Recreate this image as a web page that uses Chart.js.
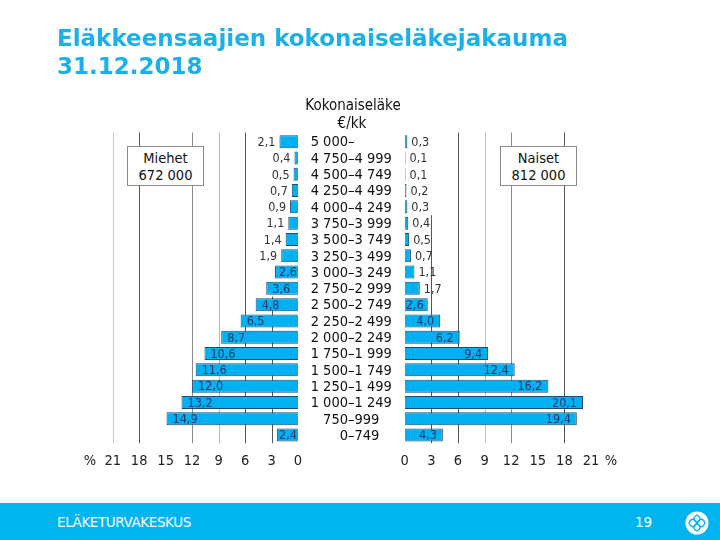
<!DOCTYPE html>
<html><head><meta charset="utf-8">
<script src="https://cdn.jsdelivr.net/npm/chart.js@4.4.0/dist/chart.umd.min.js"></script>
<style>
html,body{margin:0;padding:0;background:#fff;}
#wrap{position:relative;width:720px;height:540px;overflow:hidden;font-family:'DejaVu Sans Condensed','DejaVu Sans',sans-serif;}
canvas{position:absolute;left:0;top:0;}
.title{position:absolute;left:57px;top:24px;font-family:'DejaVu Sans';font-weight:bold;font-size:23px;color:#1cb0ea;line-height:28px;white-space:nowrap;}
.box{position:absolute;top:146px;height:40px;width:77px;background:#fff;border:1px solid #8a8a8a;text-align:center;font-size:14.5px;line-height:17px;color:#111;box-sizing:border-box;padding-top:3px;}
.footer{position:absolute;left:0;top:503px;width:720px;height:37px;background:#00b4ef;color:#fff;}
.ftxt{position:absolute;left:57px;top:11px;font-family:'DejaVu Sans';font-weight:normal;font-size:13.5px;letter-spacing:-0.4px;color:#fff;}
.fnum{position:absolute;left:635px;top:11px;font-family:'DejaVu Sans';font-weight:normal;font-size:13.5px;color:#fff;}
.logo{position:absolute;left:685px;top:8px;}
</style></head>
<body><div id="wrap">
<canvas id="men" width="720" height="540"></canvas>
<canvas id="women" width="720" height="540"></canvas>
<div class="title">Eläkkeensaajien kokonaiseläkejakauma<br>31.12.2018</div>
<div class="box" style="left:127px">Miehet<br>672 000</div>
<div class="box" style="left:500px">Naiset<br>812 000</div>
<div class="footer">
  <div class="ftxt">ELÄKETURVAKESKUS</div>
  <div class="fnum">19</div>
  <svg class="logo" width="24" height="24" viewBox="0 0 24 24">
    <circle cx="12" cy="12" r="11.5" fill="#fff"/>
    <path d="M4 12 C6 7,9 7,12 12 C15 17,18 17,20 12 C18 7,15 7,12 12 C9 17,6 17,4 12 Z" fill="none" stroke="#00b4ef" stroke-width="1.3"/>
    <path d="M12 4 C8 6,8 9,12 12 C16 15,16 18,12 20 C8 18,8 15,12 12 C16 9,16 6,12 4 Z" fill="none" stroke="#00b4ef" stroke-width="1.3"/>
  </svg>
</div>
</div>
<script>
const categories = ["5 000–","4 750–4 999","4 500–4 749","4 250–4 499","4 000–4 249","3 750–3 999","3 500–3 749","3 250–3 499","3 000–3 249","2 750–2 999","2 500–2 749","2 250–2 499","2 000–2 249","1 750–1 999","1 500–1 749","1 250–1 499","1 000–1 249","750–999","0–749"];
const menValues = [2.1,0.4,0.5,0.7,0.9,1.1,1.4,1.9,2.6,3.6,4.8,6.5,8.7,10.6,11.6,12.0,13.2,14.9,2.4];
const womenValues = [0.3,0.1,0.1,0.2,0.3,0.4,0.5,0.7,1.1,1.7,2.6,4.0,6.2,9.4,12.4,16.2,20.1,19.4,4.3];
const tickValues = [0,3,6,9,12,15,18,21];
const headerLines = ["Kokonaiseläke","€/kk"];

const FONT = "'DejaVu Sans Condensed','DejaVu Sans',sans-serif";
const BAR_FILL = '#00b0f0';
const BAR_EDGE = '#1b4a72';
const fmt = v => v.toFixed(1).replace('.', ',');

function gridPlugin(lines){
  return {
    id:'grid',
    beforeDatasetsDraw(chart){
      const ctx = chart.ctx, x = chart.scales.x, y = chart.scales.y, a = chart.chartArea;
      ctx.save();
      ctx.lineWidth = 1;
      lines.forEach(l => {
        const px = Math.round(x.getPixelForValue(l.v)) + 0.5;
        const top = l.fromRow != null ? y.getPixelForValue(l.fromRow) - 8 : a.top - 1;
        ctx.strokeStyle = l.color;
        ctx.beginPath(); ctx.moveTo(px, top); ctx.lineTo(px, a.bottom); ctx.stroke();
      });
      ctx.restore();
    }
  };
}

function labelPlugin(side){
  return {
    id:'labels',
    afterDatasetsDraw(chart){
      const ctx = chart.ctx, x = chart.scales.x, y = chart.scales.y;
      const vals = chart.data.datasets[0].data;
      const zero = x.getPixelForValue(0);
      ctx.save();
      ctx.font = "12.5px " + FONT;
      ctx.textBaseline = 'middle';
      vals.forEach((v, i) => {
        const t = fmt(v);
        const tw = ctx.measureText(t).width;
        const end = x.getPixelForValue(v);
        const barW = Math.abs(end - zero);
        const py = y.getPixelForValue(i) + 1;
        if (v >= 2.2) {
          ctx.fillStyle = '#1d3a6b';
          const off = Math.min(6, Math.max(1, barW - tw - 1));
          if (side === 'left') { ctx.textAlign = 'left'; ctx.fillText(t, end + off, py); }
          else { ctx.textAlign = 'right'; ctx.fillText(t, end - off, py); }
        } else {
          ctx.fillStyle = '#333';
          if (side === 'left') { ctx.textAlign = 'right'; ctx.fillText(t, end - 4, py); }
          else { ctx.textAlign = 'left'; ctx.fillText(t, end + 4, py); }
        }
      });
      ctx.font = "14.5px " + FONT;
      ctx.fillStyle = '#222';
      ctx.textAlign = 'center';
      tickValues.forEach(tv => ctx.fillText(String(tv), x.getPixelForValue(tv), 461));
      if (side === 'left') ctx.fillText('%', 90, 461);
      else ctx.fillText('%', 611, 461);
      ctx.restore();
    }
  };
}

const centerPlugin = {
  id:'center',
  afterDraw(chart){
    const ctx = chart.ctx, y = chart.scales.y;
    ctx.save();
    ctx.font = "14.5px " + FONT;
    ctx.fillStyle = '#111';
    ctx.textBaseline = 'middle';
    const dashX = 348;
    categories.forEach((c, i) => {
      const k = c.indexOf('–');
      const py = y.getPixelForValue(i) + 1;
      ctx.textAlign = 'right'; ctx.fillText(c.slice(0, k), dashX, py);
      ctx.textAlign = 'left'; ctx.fillText(c.slice(k), dashX, py);
    });
    ctx.font = "15px " + FONT;
    ctx.textAlign = 'center';
    ctx.fillText(headerLines[0], 353, 106);
    ctx.fillText(headerLines[1], 352, 124);
    ctx.restore();
  }
};

function makeChart(id, values, reverse, padding, plugins){
  return new Chart(document.getElementById(id), {
    type:'bar',
    data:{ labels: categories, datasets:[{ data: values, backgroundColor: BAR_FILL, borderColor: BAR_EDGE, borderWidth: 1, barPercentage: 0.8, categoryPercentage: 1 }] },
    options:{
      indexAxis:'y', responsive:false, animation:false, devicePixelRatio:1,
      layout:{ padding },
      scales:{
        x:{ type:'linear', min:0, max:21, reverse, display:false },
        y:{ display:false }
      },
      plugins:{ legend:{display:false}, tooltip:{enabled:false} }
    },
    plugins
  });
}

makeChart('men', menValues, true, {left:112.7, right:720-298, top:133.5, bottom:540-443.2}, [
  gridPlugin([
    {v:21, color:'#c8c8c8'}, {v:18, color:'#555'}, {v:12, color:'#8a8a8a'},
    {v:9, color:'#b8b8b8'}, {v:6, color:'#555'}, {v:3, color:'#555', fromRow:10}
  ]),
  labelPlugin('left')
]);
makeChart('women', womenValues, false, {left:404.7, right:720-591, top:133.5, bottom:540-443.2}, [
  gridPlugin([
    {v:3, color:'#555', fromRow:5}, {v:6, color:'#555'}, {v:9, color:'#c0c0c0'},
    {v:12, color:'#8a8a8a'}, {v:18, color:'#555'}
  ]),
  labelPlugin('right'),
  centerPlugin
]);
</script>
</body></html>
